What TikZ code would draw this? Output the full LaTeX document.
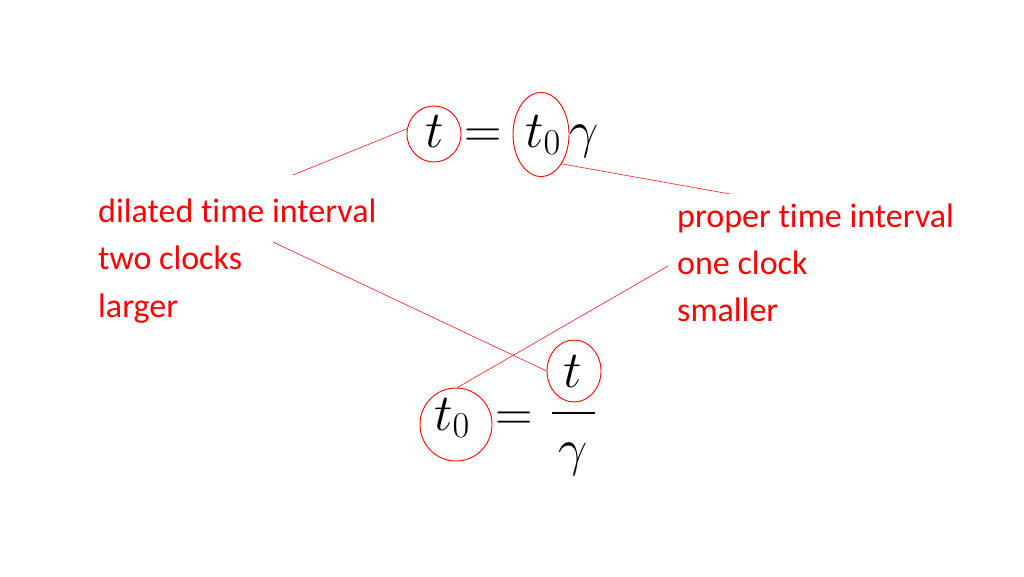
\RequirePackage{fix-cm}
\documentclass[tikz,border=0pt]{standalone}
\usepackage{fontspec}
\setmainfont[Ligatures=NoCommon]{Carlito}
\usetikzlibrary{shapes.geometric}
\begin{document}
\begin{tikzpicture}[x=1pt,y=-1pt,
  lbl/.style={text=red, font=\fontsize{34}{40}\selectfont, anchor=base west, inner sep=0},
  mth/.style={font=\fontsize{52}{60}\selectfont, anchor=base, inner sep=0},
  ring/.style={draw=red, ellipse, inner sep=0, line width=0.9pt},
  link/.style={draw=red!90!white, line width=0.6pt}]
\useasboundingbox (0,0) rectangle (1024,576);
% top equation
\node[mth] (tTop) at (435,147) {$t$};
\node[mth] (eqTop) at (483,147) {$=$};
\node[mth] (t0Top) at (543,147) {$t_0$};
\node[mth] (gTop) at (584,147) {$\gamma$};
% bottom equation
\node[mth] (t0Bot) at (452,430) {$t_0$};
\node[mth] (eqBot) at (514,430) {$=$};
\node[mth] (numT) at (573,387) {$t$};
\node[mth] (denG) at (573,465) {$\gamma$};
\draw[line width=2.5pt] (552,413) -- (595,413);
% circles
\node[ring, minimum width=54pt, minimum height=56pt] (cT) at (434,134) {};
\node[ring, minimum width=56pt, minimum height=84pt] (cT0) at (541,134.5) {};
\node[ring, minimum width=54pt, minimum height=62pt] (cNum) at (574,371) {};
\node[ring, minimum width=72pt, minimum height=73pt] (cT0b) at (456,424.5) {};
% labels
\node[lbl] (d1) at (98,222) {dilated time interval};
\node[lbl] (d2) at (98,269) {two clocks};
\node[lbl] (d3) at (98,317) {larger};
\node[lbl] (p1) at (677,227) {proper time interval};
\node[lbl] (p2) at (677,274) {one clock};
\node[lbl] (p3) at (677,321) {smaller};
% connectors
\coordinate (l1) at (293,175);
\coordinate (l2) at (730,194);
\coordinate (l3) at (273,242);
\coordinate (l4) at (668,266);
\draw[link] (l1) -- (cT.169.5);
\draw[link] (cT0.305) -- (l2);
\draw[link] (l3) -- (cNum.west);
\draw[link] (cT0b.88) -- (l4);
\end{tikzpicture}
\end{document}
